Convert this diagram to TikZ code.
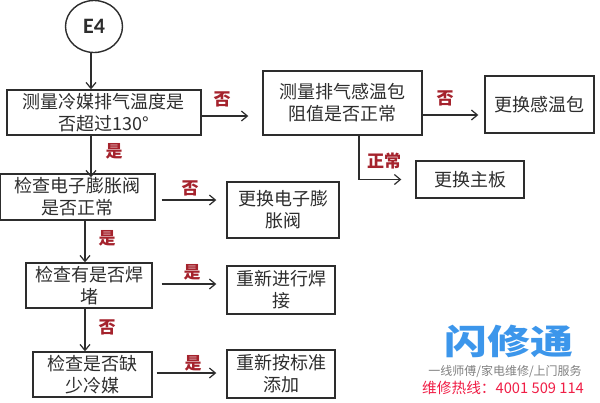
\documentclass[tikz,border=0pt]{standalone}
\usepackage{fontspec}
\setmainfont{Noto Sans CJK SC}
\newfontfamily\lat{Carlito}
\usetikzlibrary{arrows.meta,shapes.geometric}
\definecolor{ink}{RGB}{45,45,45}
\definecolor{labred}{RGB}{165,35,45}
\definecolor{logoblue}{RGB}{60,150,235}
\definecolor{hotred}{RGB}{240,30,70}
\tikzset{
 box/.style={draw=ink,line width=1.4pt,align=center,inner sep=0pt,font=\fontsize{18pt}{22pt}\selectfont,text=ink},
 lab/.style={inner sep=0pt,font=\fontsize{17pt}{19pt}\selectfont\bfseries,text=labred},
 arr/.style={draw=ink,line width=1.2pt,-{Straight Barb[length=6pt,width=10pt]}},
}
\newcommand{\bx}[6]{\node[box,minimum width=#4pt,minimum height=#5pt] (#1) at (#2+#4/2,#3+#5/2) {#6};}
\begin{document}
\begin{tikzpicture}[x=1pt,y=-1pt]
\useasboundingbox (0,0) rectangle (600,402);
\node[draw=ink,line width=1.4pt,ellipse,minimum width=57pt,minimum height=52pt,inner sep=0pt,font=\lat\fontsize{22pt}{24pt}\selectfont\bfseries,text=ink] (start) at (94,26.5) {E4};
\bx{a}{7}{90}{194}{45}{测量冷媒排气温度是\\否超过130°}
\bx{b}{263}{71}{159}{64}{测量排气感温包\\阻值是否正常}
\bx{c}{485}{76}{109}{57}{更换感温包}
\bx{d}{416}{161}{108}{37}{更换主板}
\bx{e}{0}{174}{155}{46}{检查电子膨胀阀\\是否正常}
\bx{f}{227}{182}{112}{56}{更换电子膨\\胀阀}
\bx{g}{26}{263}{126}{45}{检查有是否焊\\堵}
\bx{h}{227}{266}{108}{48}{重新进行焊\\接}
\bx{i}{33}{352}{119}{45}{检查是否缺\\少冷媒}
\bx{j}{227}{350}{108}{48}{重新按标准\\添加}
\draw[arr] ([shift={(-3,0)}]start.south) -- ([shift={(-13,0)}]a.north);
\draw[arr] ([shift={(-13,0)}]a.south) -- ([shift={(13.5,4)}]e.north);
\draw[arr] ([shift={(7.5,0)}]e.south) -- ([shift={(-4,0)}]g.north);
\draw[arr] ([shift={(-4,0)}]g.south) -- ([shift={(-7.5,0)}]i.north);
\draw[arr] ([shift={(0,3.5)}]a.east) -- ([shift={(-14,13)}]b.west);
\draw[arr] ([shift={(0,12)}]b.east) -- ([shift={(-6,10.5)}]c.west);
\draw[arr] ([shift={(16.5,0)}]b.south) |- ([shift={(-14,0)}]d.west);
\draw[arr] ([shift={(6,3)}]e.east) -- ([shift={(-10,-10)}]f.west);
\draw[arr] ([shift={(9,-1.5)}]g.east) -- ([shift={(-10,-6)}]h.west);
\draw[arr] ([shift={(4,-1.5)}]i.east) -- ([shift={(-10,-1)}]j.west);
\node[lab] (l1) at (222,99) {否};
\node[lab] (l2) at (445,98) {否};
\node[lab] (l3) at (384,161) {正常};
\node[lab] (l4) at (114,151) {是};
\node[lab] (l5) at (190,188) {否};
\node[lab] (l6) at (107,238) {是};
\node[lab] (l7) at (192,272) {是};
\node[lab] (l8) at (107,327) {否};
\node[lab] (l9) at (193,363) {是};
\node[inner sep=0pt,font=\fontsize{43pt}{46pt}\selectfont\bfseries,text=logoblue] (logo) at (509,341) {\scalebox{1}[0.8]{闪修通}};
\node[inner sep=0pt,font=\fontsize{12pt}{13pt}\selectfont,text=black!50] (sub) at (505,371) {一线师傅/家电维修/上门服务};
\node[inner sep=0pt,font=\fontsize{14.7pt}{16pt}\selectfont,text=hotred] (hot) at (503,388) {维修热线：4001 509 114};
\end{tikzpicture}
\end{document}
